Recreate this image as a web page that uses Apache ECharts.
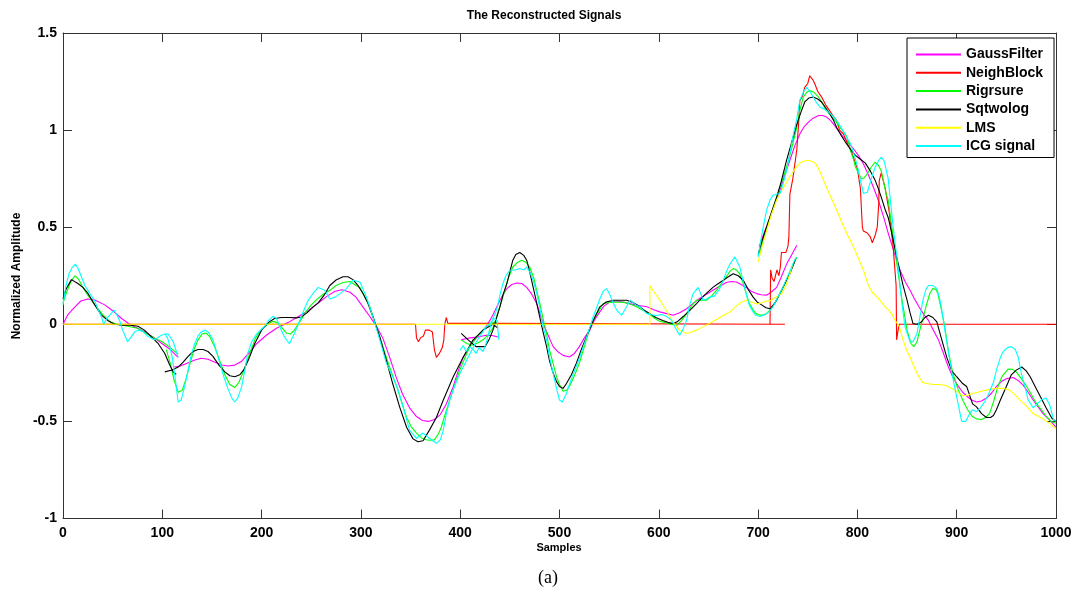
<!DOCTYPE html>
<html><head><meta charset="utf-8">
<script src="https://cdn.jsdelivr.net/npm/echarts@6/dist/echarts.min.js"></script>
<style>html,body{margin:0;padding:0;background:#fff}#c{width:1077px;height:592px}</style>
</head><body><div id="c"></div>
<script>
// ---- data (x = sample index, y = normalized amplitude), each series as list of segments ----
const seriesNames = ['GaussFilter','NeighBlock','Rigrsure','Sqtwolog','LMS','ICG signal'];
const seriesColors = ['#ff00ff','#ff0000','#00ff00','#000000','#ffff00','#00ffff'];
const xTickValues = [0,100,200,300,400,500,600,700,800,900,1000];
const yTickValues = [-1,-0.5,0,0.5,1,1.5];

const gaussFilter = [
 [[0,0],[5,0.05],[12,0.09],[18,0.12],[25,0.13],[32,0.125],[42,0.10],[50,0.07],[59,0.03],[67,0.0],[75,-0.02],[83,-0.04],[92,-0.07],[100,-0.10],[108,-0.13],[116,-0.17]],
 [[112,-0.22],[118,-0.215],[125,-0.20],[132,-0.185],[139,-0.175],[146,-0.18],[153,-0.195],[160,-0.21],[166,-0.215],[173,-0.21],[180,-0.19],[186,-0.155],[195,-0.10],[205,-0.055],[215,-0.02],[227,0.01],[237,0.04],[247,0.07],[257,0.11],[266,0.145],[274,0.17],[281,0.178],[289,0.165],[295,0.14],[302,0.09],[309,0.04],[316,-0.013],[322,-0.07],[329,-0.17],[336,-0.28],[342,-0.36],[349,-0.43],[356,-0.475],[362,-0.495],[368,-0.50],[374,-0.49],[380,-0.465],[386,-0.41],[393,-0.32],[398,-0.24],[403,-0.17],[410,-0.11],[418,-0.06],[425,-0.02],[430,0.02],[435,0.07],[440,0.124],[444,0.16],[447,0.184],[452,0.205],[457,0.213],[462,0.21],[467,0.19],[472,0.155],[477,0.107],[483.6,0.004],[488,-0.05],[493.6,-0.115],[498,-0.14],[503.6,-0.16],[510,-0.168],[515,-0.15],[520,-0.115],[525,-0.07],[530.6,-0.03],[535,0.02],[540.6,0.064],[545,0.095],[550.7,0.115],[557,0.12],[564,0.115],[572,0.105],[580,0.097],[588,0.09],[595,0.075],[601,0.064],[608,0.055],[614.5,0.047],[621,0.06],[628,0.08],[634,0.105],[641,0.133],[648,0.155],[654.5,0.175],[661,0.195],[668,0.215],[673,0.22],[678,0.218],[683,0.205],[688,0.19],[693,0.17],[698.5,0.158],[703,0.152],[708.5,0.15],[713,0.165],[718.7,0.19],[723,0.24],[728.7,0.31],[734,0.36],[739,0.407]],
 [[401,-0.08],[410,-0.07],[418,-0.065],[426,-0.056],[432,-0.058],[438,-0.065]],
 [[701,0.40],[706,0.47],[712,0.55],[717,0.62],[722,0.69],[727,0.77],[732,0.845],[737,0.92],[742,0.98],[746,1.015],[750.5,1.04],[755,1.06],[761,1.075],[765,1.075],[769,1.067],[773,1.05],[777,1.024],[781,0.995],[786,0.964],[791,0.935],[796,0.904],[801,0.87],[806,0.827],[811,0.77],[816,0.707],[821,0.64],[826,0.56],[831,0.47],[837,0.37],[843,0.278],[848,0.22],[853,0.175],[857,0.135],[862,0.09],[867,0.05],[871.6,0.02],[876,-0.025],[881.6,-0.08],[886,-0.14],[891.6,-0.22],[896,-0.27],[901.7,-0.32],[906,-0.35],[911,-0.373],[915,-0.39],[920,-0.40],[925,-0.395],[930,-0.38],[935,-0.355],[940,-0.32],[945,-0.295],[950,-0.28],[957,-0.274],[962,-0.29],[967,-0.313],[972,-0.35],[977,-0.39],[982,-0.425],[987,-0.46],[993,-0.49],[1000,-0.53]]
];

const neighBlock = [
 [[0,0],[355,0],[356,-0.07],[358,-0.09],[360,-0.07],[363,-0.06],[365,-0.03],[369,-0.03],[372,-0.04],[374,-0.13],[376,-0.17],[379,-0.15],[382,-0.12],[383.5,-0.08],[384.5,0.0],[386,0.035],[387.5,0.005],[437,0.005],[437,0],[727,0]],
 [[712,0],[712.6,0.28],[714,0.24],[716,0.22],[718,0.23],[719,0.28],[721,0.25],[722.5,0.30],[723.5,0.37],[728,0.37],[730,0.40],[731,0.45],[732,0.67],[735,0.75],[739,0.90],[741,1.05],[742,1.15],[745,1.18],[747,1.22],[750,1.24],[752,1.28],[755,1.26],[757,1.24],[760,1.20],[764,1.17],[768,1.13],[772,1.10],[776,1.07],[779,1.05],[782,1.00],[786,0.98],[790,0.93],[793,0.90],[796,0.86],[800,0.80],[803,0.70],[804,0.60],[805,0.50],[806,0.48],[810,0.47],[813,0.45],[815,0.42],[818,0.46],[820,0.50],[821.5,0.62],[822,0.74],[824,0.78],[828,0.70],[832,0.58],[836,0.40],[839,0.20],[839.5,-0.08],[841,-0.03],[842,0.0],[1000,0]]
];

const rigrsure = [
 [[0,0.11],[4,0.17],[8,0.22],[12,0.25],[16,0.23],[20,0.19],[25,0.15],[32,0.10],[40,0.05],[48,0.01],[55,0.0],[65,-0.01],[75,-0.02],[85,-0.05],[92,-0.07],[100,-0.09],[108,-0.12],[116,-0.155]],
 [[104,-0.13],[108,-0.2],[112,-0.29],[116,-0.35],[120,-0.34],[124,-0.28],[128,-0.2],[132,-0.13],[136,-0.08],[140,-0.05],[144,-0.045],[148,-0.065],[153,-0.12],[158,-0.19],[163,-0.26],[168,-0.31],[173,-0.325],[177,-0.3],[182,-0.24],[188,-0.15],[194,-0.07],[200,-0.025],[206,0.0],[211,0.015],[215,0.01],[220,-0.015],[225,-0.045],[229,-0.05],[233,-0.03],[238,0.01],[244,0.06],[250,0.10],[256,0.13],[262,0.155],[268.7,0.175],[275,0.2],[282,0.215],[289,0.22],[295,0.2],[299,0.19],[304,0.14],[309,0.09],[315.7,-0.013],[320,-0.08],[325.6,-0.17],[331,-0.25],[336,-0.32],[341,-0.40],[346,-0.48],[351,-0.53],[356,-0.56],[361,-0.585],[366,-0.595],[370,-0.597],[374,-0.595],[378,-0.565],[381,-0.53],[385,-0.46],[389.5,-0.39],[394,-0.32],[399.6,-0.236],[405,-0.17],[409.7,-0.115],[415,-0.075],[420,-0.047],[425,-0.02],[430,0.0],[434,0.01],[438,0.012]],
 [[401,-0.08],[407,-0.1],[413,-0.107],[418,-0.095],[423,-0.08],[428,-0.055],[433,-0.02],[438,0.06],[443,0.14],[448,0.23],[453,0.295],[458,0.32],[462,0.33],[466,0.32],[470,0.295],[474,0.24],[477,0.175],[480,0.11],[483,0.04],[487,-0.05],[490,-0.133],[494,-0.21],[497,-0.27],[500,-0.31],[503.6,-0.345],[507,-0.34],[510,-0.32],[515,-0.265],[520,-0.20],[525,-0.115],[530,-0.03],[534,0.02],[537,0.047],[544,0.107],[550,0.113],[557.5,0.115],[565,0.113],[571,0.105],[577.6,0.09],[583,0.075],[588,0.064],[596,0.03],[601,0.015],[606,0.01],[612,0.0],[618,-0.005],[623,0.02],[628,0.055],[633,0.095],[638,0.124],[643,0.125],[648,0.124],[653,0.145],[658,0.175],[663,0.21],[668,0.245],[672,0.275],[675,0.287],[678,0.28],[681.6,0.26],[685,0.21],[688,0.158],[691,0.11],[695,0.073],[698,0.055],[702,0.047],[705,0.048],[708.5,0.055],[713,0.08],[718.7,0.124],[723,0.165],[728.7,0.227],[734,0.29],[739,0.347]],
 [[701.5,0.364],[706,0.45],[712,0.55],[718.7,0.655],[723,0.72],[728.7,0.81],[734,0.91],[739,1.015],[742,1.10],[745.5,1.17],[749,1.195],[752,1.204],[756,1.195],[761,1.17],[765,1.135],[769,1.10],[774,1.07],[779,1.04],[783,1.01],[788,0.98],[791,0.94],[793,0.895],[796,0.85],[798,0.81],[801,0.78],[804,0.75],[807,0.755],[810,0.775],[814,0.81],[818,0.835],[821,0.82],[824,0.79],[829,0.67],[831,0.64],[836,0.45],[840,0.30],[845,0.124],[850,-0.03],[854,-0.10],[857,-0.115],[860,-0.09],[862,-0.047],[866,0.03],[869,0.09],[873,0.16],[876,0.184],[879,0.18],[881,0.158],[884,0.09],[888,-0.013],[892,-0.15],[896,-0.25],[901,-0.33],[906,-0.39],[911,-0.44],[916,-0.476],[920,-0.487],[925,-0.49],[929,-0.48],[933,-0.46],[937,-0.40],[941.5,-0.32],[946,-0.265],[952,-0.23],[956,-0.232],[960,-0.245],[965,-0.28],[970.5,-0.32],[975,-0.36],[980.6,-0.41],[986,-0.445],[990.6,-0.476],[995,-0.50],[1000,-0.51]]
];

const sqtwolog = [
 [[0,0.13],[3,0.18],[8.5,0.23],[15,0.21],[20,0.19],[25,0.16],[32,0.10],[38.7,0.047],[45,0.02],[52,0.0],[60,-0.005],[68,-0.005],[75.5,-0.01],[82,-0.03],[89,-0.065],[96,-0.1],[102.5,-0.15],[107.5,-0.21],[111,-0.245],[114,-0.257]],
 [[102.5,-0.245],[110,-0.235],[116,-0.22],[121,-0.195],[126,-0.165],[131,-0.14],[136,-0.13],[141,-0.13],[146,-0.14],[151,-0.165],[157,-0.21],[163,-0.245],[168,-0.265],[173,-0.27],[178,-0.26],[182,-0.235],[187,-0.18],[193,-0.10],[200,-0.03],[207,0.01],[213,0.03],[220,0.035],[228,0.035],[235,0.033],[240,0.038],[246,0.06],[252,0.09],[257,0.11],[263,0.15],[268.7,0.20],[275,0.228],[282,0.245],[287,0.245],[292,0.23],[297,0.20],[302,0.16],[307,0.11],[312,0.04],[319,-0.065],[325.6,-0.185],[332,-0.305],[339,-0.425],[346,-0.53],[352.5,-0.59],[357.5,-0.605],[362.6,-0.60],[369,-0.545],[376,-0.48],[383,-0.39],[393,-0.27],[403,-0.17],[413,-0.08],[423,-0.03],[433,0.0],[438,-0.02]],
 [[401,-0.047],[408,-0.08],[416,-0.115],[425,-0.115],[429,-0.08],[433,-0.03],[437,0.04],[440,0.09],[443,0.15],[447,0.21],[450,0.27],[453,0.33],[456,0.36],[460,0.37],[464,0.355],[467,0.33],[470,0.27],[473.5,0.19],[477,0.11],[480,0.04],[483.5,-0.04],[487,-0.115],[490,-0.19],[493.6,-0.25],[497,-0.295],[500,-0.32],[503.6,-0.33],[507,-0.305],[512,-0.26],[517,-0.20],[522,-0.13],[527,-0.065],[534,0.02],[540.6,0.09],[547,0.115],[554,0.124],[561,0.124],[567.5,0.124],[574,0.112],[581,0.09],[586,0.07],[591,0.055],[597,0.035],[604,0.02],[609,0.01],[614.5,0.004],[619,0.015],[624.6,0.04],[631,0.07],[638,0.107],[646,0.15],[654.5,0.19],[660,0.21],[665,0.227],[670,0.245],[675,0.26],[680,0.25],[685,0.227],[690,0.18],[695,0.14],[699,0.115],[703.5,0.10],[708,0.085],[712,0.08],[717,0.11],[722,0.158],[727,0.21],[732,0.26],[735,0.30],[738,0.34]],
 [[700,0.36],[704,0.43],[708.5,0.50],[713,0.57],[718.7,0.655],[723,0.73],[728.7,0.845],[734,0.94],[739,1.03],[743,1.09],[747,1.145],[751,1.165],[755.5,1.17],[760,1.16],[764,1.145],[768,1.115],[772,1.085],[776,1.05],[779,1.015],[784,0.97],[789,0.93],[794,0.895],[798,0.87],[803,0.85],[808,0.83],[813,0.79],[818,0.74],[821,0.70],[824,0.655],[828,0.59],[831,0.55],[835,0.46],[839,0.36],[846,0.20],[850,0.124],[853,0.06],[856,0.004],[860,0.0],[864,0.01],[868,0.035],[871.6,0.047],[876,0.035],[880,0.012],[885,-0.08],[890,-0.17],[895,-0.24],[900,-0.27],[906,-0.305],[910,-0.32],[916,-0.41],[920,-0.425],[925,-0.46],[930,-0.48],[934,-0.48],[937,-0.47],[940,-0.44],[944,-0.39],[947,-0.355],[950,-0.32],[955,-0.26],[960,-0.236],[965.5,-0.22],[970,-0.24],[974,-0.27],[980,-0.33],[985,-0.38],[990,-0.43],[996,-0.485],[1000,-0.50]]
];

const lms = [
 [[0,0],[591,0],[591,0.20],[596,0.16],[601,0.125],[606,0.085],[611,0.04],[616,0.0],[621,-0.03],[628,-0.047],[633,-0.04],[638,-0.03],[645,-0.012],[651,0.004],[658,0.025],[665,0.045],[672,0.065],[677,0.09],[682,0.11],[688,0.124],[693,0.115],[698.5,0.105],[703,0.11],[708.5,0.12],[712,0.12],[717,0.138],[721,0.15],[724,0.16],[728,0.20],[732,0.26],[735,0.31]],
 [[700,0.32],[704,0.40],[708.5,0.48],[713,0.56],[718.7,0.64],[725,0.70],[732,0.76],[737,0.80],[742,0.83],[746,0.84],[750.5,0.845],[754,0.84],[757.5,0.83],[762,0.79],[766,0.74],[771,0.68],[776,0.625],[781,0.565],[786,0.505],[791,0.45],[796,0.40],[801,0.34],[806,0.28],[811,0.20],[815,0.165],[820,0.14],[824,0.115],[828,0.09],[832,0.07],[835,0.05],[838,0.02],[842,-0.01],[846,-0.08],[850,-0.14],[853,-0.17],[858,-0.23],[863,-0.28],[866,-0.30],[870,-0.305],[876,-0.31],[883,-0.31],[889,-0.315],[895,-0.33],[900,-0.345],[905,-0.365],[910,-0.367],[917,-0.355],[925,-0.345],[933,-0.335],[940,-0.33],[947,-0.33],[953.6,-0.34],[958,-0.36],[963.7,-0.39],[970,-0.42],[977,-0.46],[983,-0.475],[990.6,-0.50],[995,-0.515],[1000,-0.54]]
];

const icgSignal = [
 [[0,0.10],[3,0.2],[6,0.26],[9,0.29],[12.5,0.31],[15,0.29],[18.5,0.245],[22,0.20],[25,0.175],[28,0.15],[32,0.12],[35,0.08],[38.7,0.04],[41,0.0],[44,0.03],[47,0.047],[51.5,0.073],[54,0.05],[57,0.02],[60,-0.03],[65,-0.09],[68,-0.07],[72,-0.04],[75.5,-0.03],[80,-0.035],[85,-0.06],[92,-0.08],[95,-0.07],[99,-0.056],[103,-0.05],[106,-0.05],[111,-0.09],[116,-0.17]],
 [[103,-0.05],[106,-0.08],[110,-0.17],[113,-0.28],[116,-0.40],[119,-0.39],[122,-0.33],[126,-0.236],[129,-0.16],[132.6,-0.10],[136,-0.06],[139,-0.04],[143.6,-0.03],[147,-0.045],[151,-0.08],[154,-0.13],[158,-0.20],[162,-0.27],[166,-0.33],[170,-0.38],[173,-0.40],[176,-0.38],[180,-0.32],[183,-0.24],[186,-0.15],[190,-0.09],[195,-0.05],[199,-0.03],[203,-0.013],[207,0.02],[211.5,0.04],[215,0.03],[219,-0.02],[223,-0.065],[228,-0.10],[233,-0.047],[237,0.0],[240,0.04],[244,0.09],[247,0.124],[252,0.16],[257,0.19],[263.6,0.175],[268.7,0.13],[274,0.14],[279,0.158],[285.5,0.184],[292,0.227],[299,0.218],[305.6,0.14],[312,0.04],[319,-0.08],[325.6,-0.20],[332,-0.27],[337,-0.33],[342.5,-0.425],[349,-0.545],[356,-0.587],[362.6,-0.56],[369,-0.587],[376,-0.613],[380,-0.595],[383,-0.545],[386,-0.46],[390,-0.38],[395,-0.31],[400,-0.25],[405,-0.20],[410,-0.15],[415,-0.10],[420,-0.06],[426,-0.013],[430,0.004],[434,0.03],[437,0.02],[439,-0.08]],
 [[400,-0.133],[403,-0.11],[406,-0.14],[409.7,-0.115],[413,-0.13],[416,-0.15],[419,-0.12],[423,-0.14],[426,-0.10],[430,-0.02],[433,0.03],[436.6,0.073],[440,0.15],[443,0.21],[446,0.25],[450,0.278],[455,0.28],[460,0.287],[464,0.28],[467,0.295],[470,0.27],[473.5,0.227],[477,0.16],[480,0.09],[483,0.0],[487,-0.08],[490,-0.17],[493.6,-0.253],[497,-0.33],[500,-0.39],[503,-0.40],[507,-0.356],[510,-0.31],[514,-0.253],[519,-0.19],[524,-0.115],[529,-0.04],[534,0.04],[537,0.08],[540.6,0.13],[544,0.17],[547.5,0.184],[551,0.15],[554,0.11],[558,0.07],[562.5,0.047],[567.5,0.09],[571,0.124],[573,0.115],[577,0.10],[581,0.09],[587.7,0.055],[592,0.05],[597,0.045],[603,0.05],[608,0.04],[613,0.02],[617,-0.02],[621,-0.056],[624,-0.03],[628,0.02],[631,0.10],[634.6,0.158],[639.7,0.19],[644.7,0.124],[648,0.13],[651,0.14],[656,0.145],[661,0.18],[665,0.227],[668,0.27],[671.6,0.31],[676.6,0.347],[681.6,0.295],[685,0.22],[688,0.158],[691,0.10],[695,0.064],[698,0.045],[702,0.04],[707,0.05],[711,0.065],[715,0.09],[720,0.14],[725,0.19],[730,0.25],[735,0.31],[738.6,0.347]],
 [[700,0.347],[704,0.47],[708.5,0.587],[712,0.64],[715,0.664],[718,0.67],[722,0.673],[725,0.72],[728.7,0.793],[732,0.88],[735,0.964],[739,1.06],[742,1.153],[746,1.20],[749,1.22],[752,1.20],[755.5,1.17],[759,1.14],[762.5,1.118],[766,1.11],[769,1.10],[774,1.08],[779,1.05],[784,1.01],[789,0.964],[793,0.93],[797,0.87],[801,0.793],[804,0.72],[806,0.673],[810,0.68],[814,0.75],[818,0.81],[821,0.84],[824,0.86],[827,0.84],[831,0.75],[836,0.50],[841,0.295],[845,0.10],[848,-0.013],[853,-0.09],[856,-0.09],[860,-0.047],[863,0.04],[866,0.124],[869,0.18],[871.6,0.20],[876,0.20],[880,0.184],[883,0.13],[885,0.073],[889,-0.06],[893,-0.185],[897,-0.30],[900,-0.373],[903,-0.45],[905,-0.50],[909,-0.50],[913,-0.46],[916,-0.44],[920,-0.45],[924,-0.43],[928,-0.40],[932,-0.36],[937,-0.30],[940,-0.236],[944,-0.17],[947,-0.14],[951,-0.12],[955,-0.115],[959,-0.13],[962,-0.17],[965,-0.25],[968.6,-0.32],[972,-0.39],[977,-0.43],[981,-0.41],[985,-0.39],[990,-0.38],[994,-0.42],[997.5,-0.49],[1000,-0.50]]
];

const seriesData = [gaussFilter, neighBlock, rigrsure, sqtwolog, lms, icgSignal];

// join segments with a gap marker so each piece is drawn separately
function joinSegments(segs){
  const out = [];
  segs.forEach((s, i) => {
    if (i > 0) out.push([s[0][0], '-']);
    s.forEach(p => out.push(p));
  });
  return out;
}

const FONT = 'Liberation Sans, Arial, sans-serif';
const chart = echarts.init(document.getElementById('c'), null, {renderer: 'canvas'});

const axisLineStyle = {color: '#333', width: 1};
const tickLabelStyle = {fontFamily: FONT, fontWeight: 'bold', fontSize: 14, color: '#000'};

function boxAxis(extra) {
  return Object.assign({
    axisLine: {show: true, onZero: false, lineStyle: axisLineStyle},
    axisTick: {show: true, inside: true, length: 9, lineStyle: axisLineStyle},
    splitLine: {show: false}
  }, extra);
}

chart.setOption({
  animation: false,
  backgroundColor: '#fff',
  grid: {left: 63, right: 21, top: 33, bottom: 73.5, containLabel: false},
  xAxis: [
    boxAxis({type: 'value', min: 0, max: 1000, interval: 100, position: 'bottom',
     axisLabel: Object.assign({margin: 8, formatter: v => String(v)}, tickLabelStyle)}),
    boxAxis({type: 'value', min: 0, max: 1000, interval: 100, position: 'top',
     axisLabel: {show: false}})
  ],
  yAxis: [
    boxAxis({type: 'value', min: -1, max: 1.5, interval: 0.5, position: 'left',
     axisLabel: Object.assign({margin: 6, formatter: v => String(v)}, tickLabelStyle)}),
    boxAxis({type: 'value', min: -1, max: 1.5, interval: 0.5, position: 'right',
     axisLabel: {show: false}})
  ],
  legend: {
    data: seriesNames,
    orient: 'vertical',
    left: 907, top: 38,
    icon: 'rect',
    itemWidth: 45, itemHeight: 2, itemGap: 4.3,
    padding: [9.5, 11, 4.5, 9],
    borderColor: '#000', borderWidth: 1, backgroundColor: '#fff', borderRadius: 0,
    textStyle: {fontFamily: FONT, fontWeight: 'bold', fontSize: 14, color: '#000', lineHeight: 14},
    selectedMode: false
  },
  graphic: [
    {type: 'text', z: 10, style: {x: 544, y: 16, text: 'The Reconstructed Signals', fill: '#000',
      font: 'bold 12px Liberation Sans, Arial, sans-serif', textAlign: 'center', textVerticalAlign: 'middle'}},
    {type: 'text', z: 10, style: {x: 559, y: 548, text: 'Samples', fill: '#000',
      font: 'bold 11px Liberation Sans, Arial, sans-serif', textAlign: 'center', textVerticalAlign: 'middle'}},
    {type: 'text', z: 10, x: 17, y: 276, rotation: Math.PI / 2,
     style: {x: 0, y: 0, text: 'Normalized Amplitude', fill: '#000',
      font: 'bold 12px Liberation Sans, Arial, sans-serif', textAlign: 'center', textVerticalAlign: 'middle'}},
    {type: 'text', z: 10, style: {x: 548, y: 578, text: '(a)', fill: '#000',
      font: '18px Liberation Serif, Times New Roman, serif', textAlign: 'center', textVerticalAlign: 'middle'}}
  ],
  series: seriesNames.map((name, i) => ({
    name: name,
    type: 'line',
    xAxisIndex: 0, yAxisIndex: 0,
    data: joinSegments(seriesData[i]),
    showSymbol: false, symbol: 'none',
    connectNulls: false,
    silent: true,
    lineStyle: {color: seriesColors[i], width: 1.1},
    itemStyle: {color: seriesColors[i]},
    z: 2 + i
  }))
});
</script>
</body></html>
